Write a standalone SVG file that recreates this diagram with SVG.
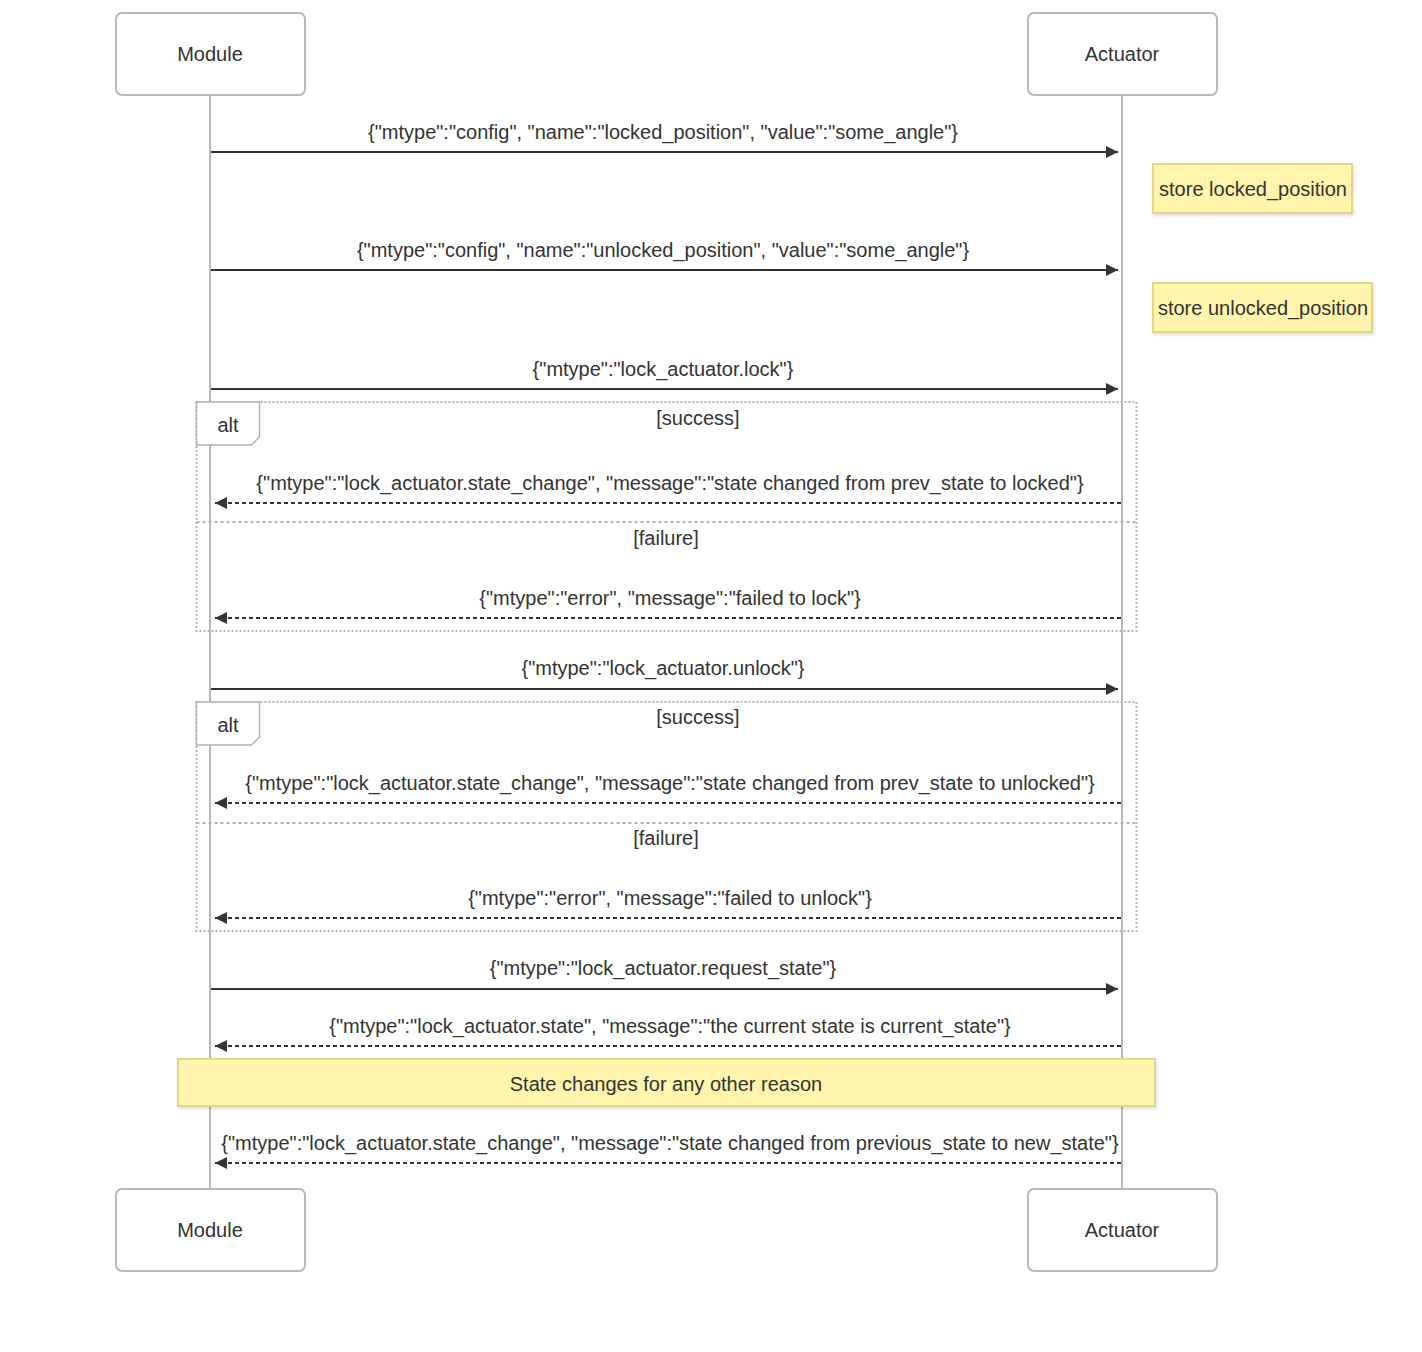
<svg xmlns="http://www.w3.org/2000/svg" width="1422" height="1352" viewBox="0 0 1422 1352">
  <style>
    text { font-family: "Liberation Sans", Arial, Helvetica, sans-serif; fill: #333333; }
    .actor rect { fill: #ffffff; stroke: #b8b8b8; stroke-width: 2; }
    .actor text { font-size: 20px; text-anchor: middle; }
    .lifeline { stroke: #b8b8b8; stroke-width: 2; }
    .msg { stroke: #333333; stroke-width: 2; fill: none; }
    .dashed { stroke-dasharray: 4 3; }
    .mlabel { font-size: 20px; text-anchor: middle; }
    .note rect { fill: #fff5ad; stroke: #e3d68a; stroke-width: 2; filter: url(#shadow); }
    .note text { font-size: 20px; text-anchor: middle; }
    .frame { fill: none; stroke: #b3b3b3; stroke-width: 2; stroke-dasharray: 2 2; }
    .divider { fill: none; stroke: #b3b3b3; stroke-width: 2; stroke-dasharray: 3 3; }
    .altlabel { fill: #ffffff; stroke: #b3b3b3; stroke-width: 1.5; }
    .cond { font-size: 20px; text-anchor: middle; }
  </style>
  <defs>
    <marker id="arrow" viewBox="0 0 12 12" refX="12" refY="6" markerWidth="12" markerHeight="12" markerUnits="userSpaceOnUse" orient="auto">
      <path d="M0,0 L12,6 L0,12 z" fill="#333333"/>
    </marker>
    <filter id="shadow" x="-5%" y="-20%" width="110%" height="150%">
      <feDropShadow dx="1" dy="2" stdDeviation="1.5" flood-color="#000000" flood-opacity="0.12"/>
    </filter>
  </defs>

  <rect width="1422" height="1352" fill="#ffffff"/>

  <!-- lifelines -->
  <g id="lifelines">
    <line class="lifeline" x1="210" y1="95" x2="210" y2="1189"/>
    <line class="lifeline" x1="1122" y1="95" x2="1122" y2="1189"/>
  </g>

  <!-- alt frames -->
  <g id="alt-lock">
    <rect class="frame" x="196.5" y="402" width="940" height="229"/>
    <line class="divider" x1="196.5" y1="522" x2="1136.5" y2="522"/>
    <polygon class="altlabel" points="196.5,402 259.5,402 259.5,437 251.5,445 196.5,445"/>
    <text class="cond" x="228" y="432">alt</text>
    <text class="cond" x="698" y="425">[success]</text>
    <text class="cond" x="666" y="545">[failure]</text>
  </g>
  <g id="alt-unlock">
    <rect class="frame" x="196.5" y="702" width="940" height="229"/>
    <line class="divider" x1="196.5" y1="823" x2="1136.5" y2="823"/>
    <polygon class="altlabel" points="196.5,702 259.5,702 259.5,737 251.5,745 196.5,745"/>
    <text class="cond" x="228" y="732">alt</text>
    <text class="cond" x="698" y="724">[success]</text>
    <text class="cond" x="666" y="845">[failure]</text>
  </g>

  <!-- participants -->
  <g id="module-top" class="actor">
    <rect x="116" y="13" width="189" height="82" rx="6"/>
    <text x="210" y="61">Module</text>
  </g>
  <g id="actuator-top" class="actor">
    <rect x="1028" y="13" width="189" height="82" rx="6"/>
    <text x="1122" y="61">Actuator</text>
  </g>
  <g id="module-bottom" class="actor">
    <rect x="116" y="1189" width="189" height="82" rx="6"/>
    <text x="210" y="1237">Module</text>
  </g>
  <g id="actuator-bottom" class="actor">
    <rect x="1028" y="1189" width="189" height="82" rx="6"/>
    <text x="1122" y="1237">Actuator</text>
  </g>

  <!-- notes -->
  <g id="note-store-locked" class="note">
    <rect x="1153" y="164" width="199" height="49"/>
    <text x="1253" y="196">store locked_position</text>
  </g>
  <g id="note-store-unlocked" class="note">
    <rect x="1153" y="283" width="219" height="49"/>
    <text x="1263" y="315">store unlocked_position</text>
  </g>
  <g id="note-other-reason" class="note">
    <rect x="178" y="1059" width="977" height="47"/>
    <text x="666" y="1091">State changes for any other reason</text>
  </g>

  <!-- messages -->
  <g id="connectors">
    <line class="msg" x1="211" y1="152" x2="1118" y2="152" marker-end="url(#arrow)"/>
    <text class="mlabel" x="663" y="139">{"mtype":"config", "name":"locked_position", "value":"some_angle"}</text>

    <line class="msg" x1="211" y1="270" x2="1118" y2="270" marker-end="url(#arrow)"/>
    <text class="mlabel" x="663" y="257">{"mtype":"config", "name":"unlocked_position", "value":"some_angle"}</text>

    <line class="msg" x1="211" y1="389" x2="1118" y2="389" marker-end="url(#arrow)"/>
    <text class="mlabel" x="663" y="376">{"mtype":"lock_actuator.lock"}</text>

    <line class="msg dashed" x1="1121" y1="503" x2="215" y2="503" marker-end="url(#arrow)"/>
    <text class="mlabel" x="670" y="490">{"mtype":"lock_actuator.state_change", "message":"state changed from prev_state to locked"}</text>

    <line class="msg dashed" x1="1121" y1="618" x2="215" y2="618" marker-end="url(#arrow)"/>
    <text class="mlabel" x="670" y="605">{"mtype":"error", "message":"failed to lock"}</text>

    <line class="msg" x1="211" y1="689" x2="1118" y2="689" marker-end="url(#arrow)"/>
    <text class="mlabel" x="663" y="675">{"mtype":"lock_actuator.unlock"}</text>

    <line class="msg dashed" x1="1121" y1="803" x2="215" y2="803" marker-end="url(#arrow)"/>
    <text class="mlabel" x="670" y="790">{"mtype":"lock_actuator.state_change", "message":"state changed from prev_state to unlocked"}</text>

    <line class="msg dashed" x1="1121" y1="918" x2="215" y2="918" marker-end="url(#arrow)"/>
    <text class="mlabel" x="670" y="905">{"mtype":"error", "message":"failed to unlock"}</text>

    <line class="msg" x1="211" y1="989" x2="1118" y2="989" marker-end="url(#arrow)"/>
    <text class="mlabel" x="663" y="975">{"mtype":"lock_actuator.request_state"}</text>

    <line class="msg dashed" x1="1121" y1="1046" x2="215" y2="1046" marker-end="url(#arrow)"/>
    <text class="mlabel" x="670" y="1033">{"mtype":"lock_actuator.state", "message":"the current state is current_state"}</text>

    <line class="msg dashed" x1="1121" y1="1163" x2="215" y2="1163" marker-end="url(#arrow)"/>
    <text class="mlabel" x="670" y="1150">{"mtype":"lock_actuator.state_change", "message":"state changed from previous_state to new_state"}</text>
  </g>
</svg>
